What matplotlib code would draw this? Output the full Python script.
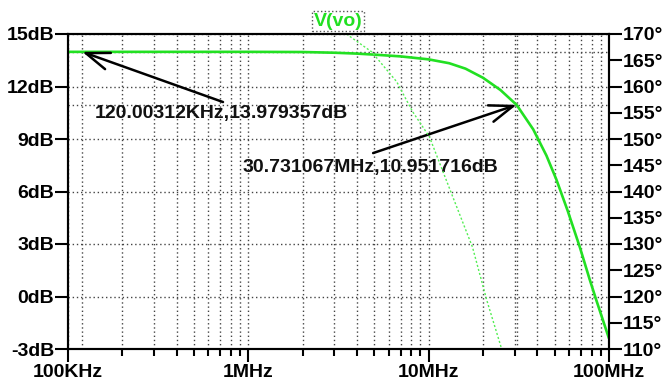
"""
LTspice style Bode plot of V(vo) with two cursors
"""

import matplotlib
matplotlib.use('Agg')
from matplotlib import pyplot as plt
from matplotlib.patches import ArrowStyle
from matplotlib.ticker import FixedLocator, LogLocator, NullFormatter


plt.rcParams['font.family'] = ['Liberation Sans', 'DejaVu Sans']
plt.rcParams['font.weight'] = 'bold'

# magnitude trace (solid)
mag_freq = [1e5, 5e5, 1e6, 2e6, 3e6, 4e6, 5e6, 7e6, 10e6, 13e6, 16e6, 20e6,
            25e6, 30.731067e6, 38e6, 45e6, 51e6, 59e6, 69e6, 78e6, 85e6, 100e6]
mag_db = [13.98, 13.98, 13.98, 13.97, 13.93, 13.88, 13.82, 13.72, 13.55, 13.33,
          13.02, 12.5, 11.8, 10.951716, 9.55, 8.05, 6.7, 4.9, 2.8, 1.0, -0.2, -2.4]

# phase trace (dotted)
ph_freq = [3.5e6, 4.83e6, 6.65e6, 8.15e6, 10.1e6, 13.6e6, 17.5e6, 21.0e6, 25.4e6]
ph_deg = [170, 166.6, 160.9, 155.2, 150.4, 139.0, 129.4, 119.3, 110]

# cursors
cur_freq = [120.00312e3, 30.731067e6]
cur_db = [13.979357, 10.951716]
cur_text = ['120.00312KHz,13.979357dB', '30.731067MHz,10.951716dB']

freq_ticks = [1e5, 1e6, 1e7, 1e8]
freq_labels = ['100KHz', '1MHz', '10MHz', '100MHz']
db_ticks = [15, 12, 9, 6, 3, 0, -3]
deg_ticks = [110, 115, 120, 125, 130, 135, 140, 145, 150, 155, 160, 165, 170]

GREEN = '#22e022'
GRID = dict(color='#444444', linewidth=1.0, linestyle=(0, (1, 2)))
SPINE_W = 1.5
FS = 14

fig = plt.figure(figsize=(6.64, 3.87), dpi=100)
ax = fig.add_axes([68 / 664, 1 - 349 / 387, 541 / 664, 315 / 387])
ax.set_xscale('log')
ax.set_xlim(1e5, 1e8)
ax.set_ylim(-3, 15)

ax.xaxis.set_major_locator(FixedLocator(freq_ticks))
ax.set_xticklabels(freq_labels)
ax.xaxis.set_minor_locator(LogLocator(base=10, subs=[2, 3, 4, 5, 6, 7, 8, 9]))
ax.xaxis.set_minor_formatter(NullFormatter())
ax.set_yticks(db_ticks)
ax.set_yticklabels(['%ddB' % v for v in db_ticks])

ax.grid(which='both', axis='x', **GRID)
ax.grid(which='major', axis='y', **GRID)
ax.set_axisbelow(True)

# cursor lines
for f, d in zip(cur_freq, cur_db):
    ax.axvline(f, zorder=1, **GRID)
    ax.axhline(d, zorder=1, **GRID)

ax.plot(mag_freq, mag_db, color=GREEN, lw=1.9, zorder=3, solid_capstyle='butt')

ax2 = ax.twinx()
ax2.set_ylim(110, 170)
ax2.set_yticks(deg_ticks)
ax2.set_yticklabels(['%d°' % v for v in deg_ticks])
ax2.plot(ph_freq, ph_deg, color='#55ee55', lw=1.0, linestyle=(0, (1.5, 1.5)))

for a in (ax, ax2):
    for s in a.spines.values():
        s.set_linewidth(SPINE_W)
ax.tick_params(axis='x', which='major', length=9, width=SPINE_W, pad=2, labelsize=FS)
ax.tick_params(axis='x', which='minor', length=5, width=SPINE_W)
ax.tick_params(axis='y', length=9.5, width=SPINE_W, pad=0.5, labelsize=FS)
ax2.tick_params(axis='y', length=9.5, width=SPINE_W, pad=0.5, labelsize=FS)

# cursor annotations
arrow = ArrowStyle('->', head_length=1.7, head_width=0.62)
tails = [(0.2865, 0.784), (0.564, 0.622)]
text_pos = [(0.05, 0.749), (0.323, 0.575)]
for f, d, t, tail, tp in zip(cur_freq, cur_db, cur_text, tails, text_pos):
    ax.annotate('', xy=(f, d), xycoords='data', xytext=tail,
                textcoords='axes fraction',
                arrowprops=dict(arrowstyle=arrow, mutation_scale=10, lw=1.8,
                                color='black', shrinkA=0, shrinkB=0),
                zorder=4)
    ax.text(tp[0], tp[1], t, transform=ax.transAxes, ha='left', va='center',
            fontsize=FS, fontweight='bold', color='#111111', zorder=4)

fig.text(338 / 664, 1 - 21 / 387, 'V(vo)', ha='center', va='center',
         color=GREEN, fontsize=FS, fontweight='bold',
         bbox=dict(boxstyle='square,pad=0.08', fc='white', ec='#555555',
                   ls=':', lw=1))

fig.savefig('out.png', dpi=100)
